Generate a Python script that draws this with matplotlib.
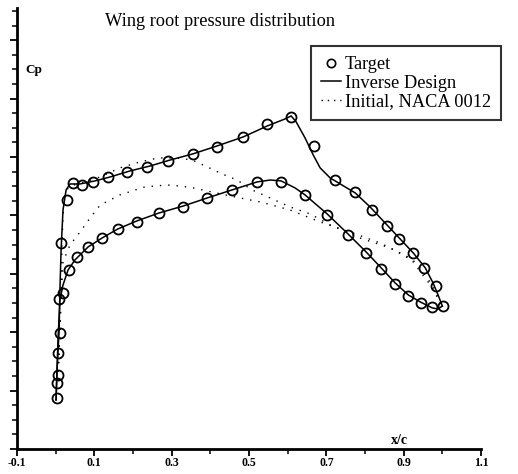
import numpy as np
import matplotlib
matplotlib.use("Agg")
import matplotlib.pyplot as plt
from matplotlib.lines import Line2D

plt.rcParams["font.family"] = ["Liberation Serif", "DejaVu Serif"]

# Target Cp (circles), upper and lower surface
tgt_up_x = [0.0035, 0.006, 0.011, 0.014, 0.029, 0.045, 0.068, 0.097, 0.135, 0.185,
            0.236, 0.291, 0.355, 0.417, 0.485, 0.547, 0.609, 0.668, 0.723, 0.775,
            0.818, 0.857, 0.888, 0.925, 0.953, 0.984, 1.002]
tgt_up_cp = [0.851, 0.693, 0.405, -0.211, -0.505, -0.622, -0.608, -0.629, -0.663, -0.697,
             -0.732, -0.773, -0.821, -0.868, -0.937, -1.026, -1.074, -0.875, -0.642, -0.560,
             -0.437, -0.327, -0.238, -0.142, -0.040, 0.084, 0.221]
tgt_lo_x = [0.0035, 0.006, 0.009, 0.019, 0.035, 0.055, 0.084, 0.12, 0.161, 0.21,
            0.267, 0.33, 0.392, 0.456, 0.521, 0.583, 0.645, 0.702, 0.756, 0.803,
            0.842, 0.878, 0.912, 0.945, 0.974]
tgt_lo_cp = [0.748, 0.542, 0.173, 0.132, -0.026, -0.115, -0.184, -0.245, -0.307, -0.355,
             -0.416, -0.458, -0.519, -0.574, -0.629, -0.629, -0.540, -0.403, -0.266, -0.142,
             -0.033, 0.070, 0.152, 0.200, 0.227]

# Inverse design result (solid)
inv_up_x = [0.001, 0.0035, 0.009, 0.011, 0.014, 0.019, 0.027, 0.037, 0.063, 0.102,
            0.141, 0.192, 0.244, 0.296, 0.355, 0.417, 0.485, 0.547, 0.593, 0.609,
            0.622, 0.645, 0.666, 0.684, 0.71, 0.736, 0.775, 0.813, 0.852, 0.891,
            0.925, 0.956, 0.976, 0.989, 1.0]
inv_up_cp = [0.864, 0.659, 0.385, 0.111, -0.163, -0.437, -0.574, -0.615, -0.615, -0.636,
             -0.663, -0.704, -0.738, -0.779, -0.821, -0.875, -0.937, -1.012, -1.060, -1.081,
             -1.040, -0.930, -0.814, -0.725, -0.656, -0.615, -0.553, -0.458, -0.348, -0.238,
             -0.142, -0.040, 0.063, 0.145, 0.221]
inv_lo_x = [0.001, 0.006, 0.011, 0.019, 0.032, 0.05, 0.084, 0.12, 0.161, 0.21,
            0.267, 0.33, 0.392, 0.456, 0.521, 0.555, 0.583, 0.619, 0.645, 0.702,
            0.756, 0.803, 0.842, 0.878, 0.912, 0.943, 0.974, 0.989, 1.0]
inv_lo_cp = [0.864, 0.453, 0.179, 0.077, -0.026, -0.095, -0.184, -0.245, -0.307, -0.362,
             -0.416, -0.464, -0.519, -0.574, -0.629, -0.642, -0.636, -0.588, -0.540, -0.410,
             -0.273, -0.149, -0.040, 0.063, 0.145, 0.193, 0.234, 0.241, 0.221]

# Initial NACA 0012 (dotted)
ini_up_x = [0.006, 0.011, 0.014, 0.016, 0.019, 0.024, 0.037, 0.076, 0.115, 0.166,
            0.218, 0.265, 0.314, 0.353, 0.392, 0.43, 0.469, 0.508, 0.555, 0.606,
            0.658, 0.71, 0.787, 0.865, 0.93, 0.974, 1.0]
ini_up_cp = [0.727, 0.385, 0.111, -0.163, -0.403, -0.560, -0.601, -0.629, -0.663, -0.725,
             -0.766, -0.793, -0.793, -0.779, -0.732, -0.684, -0.642, -0.574, -0.519, -0.458,
             -0.410, -0.334, -0.245, -0.177, -0.081, 0.077, 0.221]
ini_lo_x = [0.006, 0.014, 0.019, 0.037, 0.063, 0.089, 0.115, 0.146, 0.166, 0.231,
            0.288, 0.322, 0.355, 0.392, 0.451, 0.529, 0.606, 0.684, 0.762, 0.839,
            0.917, 0.969, 1.0]
ini_lo_cp = [0.727, 0.179, -0.081, -0.197, -0.286, -0.382, -0.471, -0.512, -0.540, -0.595,
             -0.608, -0.601, -0.588, -0.567, -0.533, -0.492, -0.437, -0.355, -0.286, -0.211,
             -0.108, 0.077, 0.221]

xtick_vals = [-0.1, 0.1, 0.3, 0.5, 0.7, 0.9, 1.1]
xtick_text = ["-0.1", "0.1", "0.3", "0.5", "0.7", "0.9", "1.1"]
legend_text = ["Target", "Inverse Design", "Initial, NACA 0012"]

fig = plt.figure(figsize=(5.18, 4.74), dpi=100)
ax = fig.add_axes([17 / 518, 25 / 474, 464 / 518, 441 / 474])

dot_style = (0, (1, 5))
ax.plot(ini_up_x, ini_up_cp, color="black", lw=1.0, linestyle=dot_style)
ax.plot(ini_lo_x, ini_lo_cp, color="black", lw=1.0, linestyle=dot_style)
ax.plot(inv_up_x, inv_up_cp, color="black", lw=1.1)
ax.plot(inv_lo_x, inv_lo_cp, color="black", lw=1.1)
ax.plot(tgt_up_x, tgt_up_cp, "o", ms=7.2, mfc="none", mec="black", mew=1.3)
ax.plot(tgt_lo_x, tgt_lo_cp, "o", ms=7.2, mfc="none", mec="black", mew=1.3)

ax.set_xlim(-0.1, 1.1)
ax.set_ylim(1.2, -1.82)

ax.spines["top"].set_visible(False)
ax.spines["right"].set_visible(False)
ax.spines["left"].set_linewidth(2)
ax.spines["bottom"].set_linewidth(2)

ax.set_xticks(xtick_vals)
ax.set_xticklabels(xtick_text, fontsize=8.5, fontweight="bold")
ax.set_xticks(np.arange(-0.1, 1.11, 0.1), minor=True)
ax.set_yticks(np.arange(1.2, -1.81, -0.4))
ax.set_yticklabels([])
ax.set_yticks(np.arange(1.2, -1.81, -0.1), minor=True)
ax.tick_params(axis="both", which="major", length=5, width=1.3, direction="out")
ax.tick_params(axis="both", which="minor", length=3.5, width=1.1, direction="out")
ax.tick_params(axis="x", pad=0.5)

fig.text(105 / 518, 1 - 21 / 474, "Wing root pressure distribution", fontsize=13.2,
         ha="left", va="center")
fig.text(25 / 518, 1 - 70 / 474, "Cp", fontsize=9.5, fontweight="bold", ha="left", va="center")
fig.text(391 / 518, 1 - 440 / 474, "x/c", fontsize=10, fontweight="bold", ha="left", va="center")

handles = [
    Line2D([], [], marker="o", ms=6, mfc="none", mec="black", mew=1.2, ls="none"),
    Line2D([], [], color="black", lw=1.1),
    Line2D([], [], color="black", lw=1.0, linestyle=(0, (1, 3.5))),
]
leg = fig.legend(handles, legend_text,
                 loc="upper left", bbox_to_anchor=(311 / 518, 1 - 46 / 474),
                 fontsize=13.2, frameon=True, fancybox=False, handlelength=1.1,
                 handletextpad=0.2, labelspacing=0.08, borderpad=0.55, borderaxespad=0)
leg.get_frame().set_edgecolor("black")
leg.get_frame().set_linewidth(1.5)

fig.savefig("out.png", dpi=100)
